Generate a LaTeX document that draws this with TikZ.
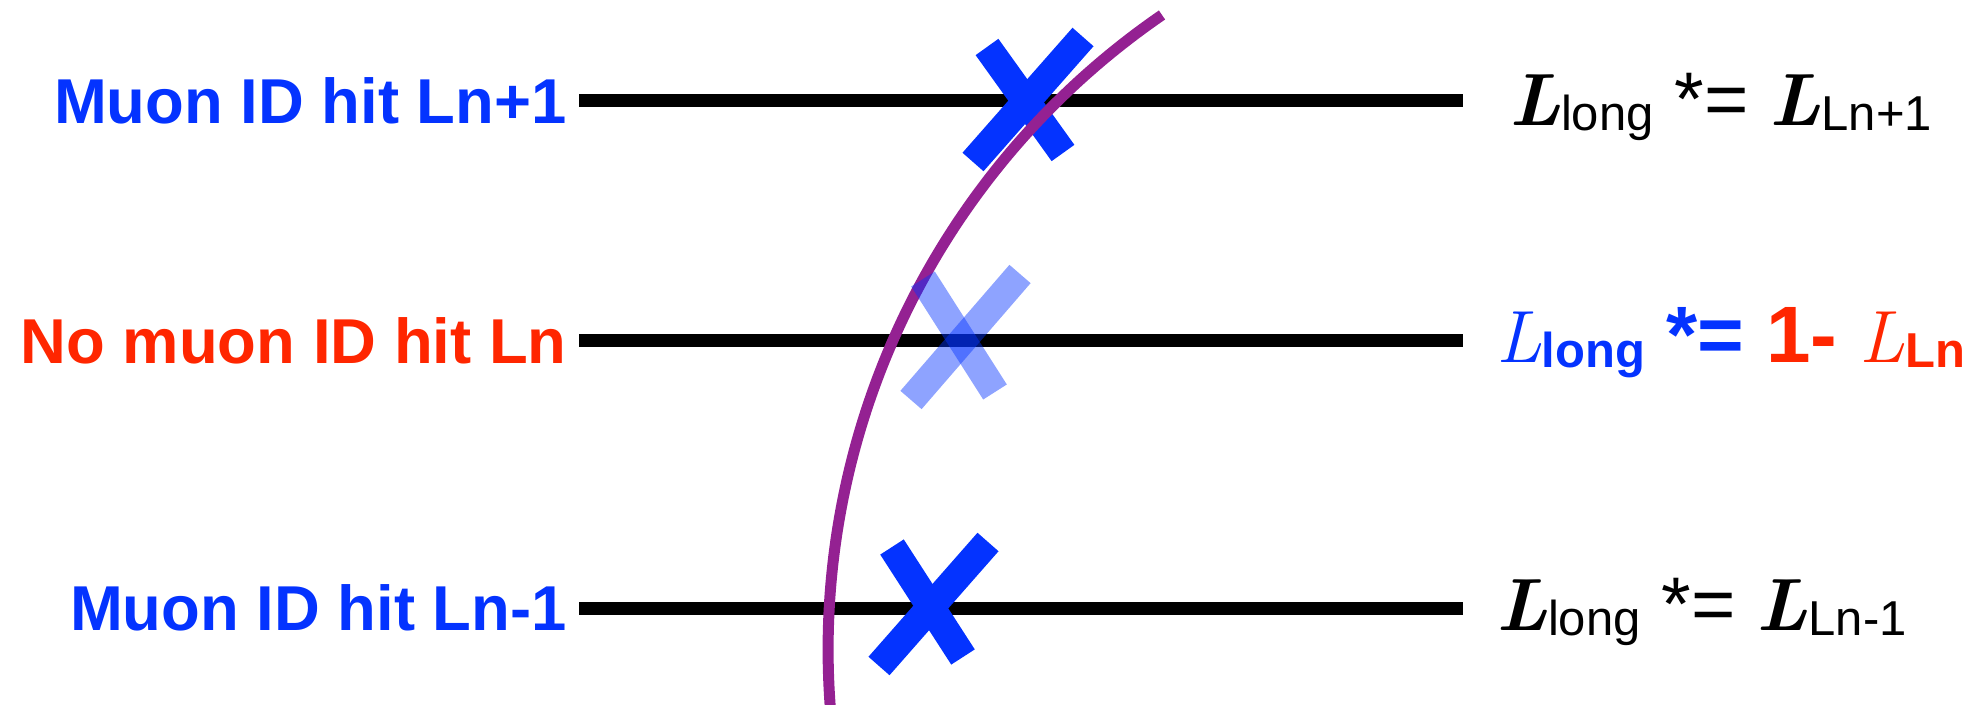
\documentclass[tikz,border=0pt]{standalone}
\usepackage{fontspec}
\setsansfont{Liberation Sans}
\usetikzlibrary{positioning}
\definecolor{hitblue}{HTML}{0433FF}
\definecolor{missred}{HTML}{FF2600}
\definecolor{trackpurple}{HTML}{942192}
\newcommand{\Lsym}[1]{{\rmfamily\bfseries\itshape\fontsize{37}{37}\selectfont L}\raisebox{-2.5pt}{\fontsize{24.5}{25}\selectfont #1}}
\newcommand{\Lthin}[1]{{\rmfamily\mdseries\itshape\fontsize{37}{37}\selectfont L}\raisebox{-2.5pt}{\fontsize{24.5}{25}\selectfont #1}}

\begin{document}
\begin{tikzpicture}[x=0.5pt, y=-0.5pt,
    layer/.style={black, line width=6.5pt},
    hitmark/.style={hitblue, line width=14pt},
    lbl/.style={font=\sffamily\bfseries\fontsize{31.7}{34}\selectfont, inner sep=0pt},
    lik/.style={font=\sffamily\fontsize{38}{40}\selectfont, inner sep=0pt, anchor=base west}]
    \useasboundingbox (0,0) rectangle (1981,705);
    \clip (0,0) rectangle (1981,705);
    % the three layers
    \coordinate (up a) at (579,101);
    \coordinate (up b) at (1463,101);
    \coordinate (mid a) at (579,341);
    \coordinate (mid b) at (1463,341);
    \coordinate (low a) at (579,608);
    \coordinate (low b) at (1463,608);
    \draw[layer] (up a) -- (up b);
    \draw[layer] (mid a) -- (mid b);
    \draw[layer] (low a) -- (low b);
    \node[lbl, hitblue, left=6pt of up a] (hitup) {Muon ID hit Ln+1};
    \node[lbl, missred, left=6pt of mid a] (nohit) {No muon ID hit Ln};
    \node[lbl, hitblue, left=6pt of low a] (hitlow) {Muon ID hit Ln-1};
    % hits
    \draw[hitmark] (987,47) -- (1063,153);
    \draw[hitmark] (1083,37) -- (973,162);
    \draw[hitmark] (892,547) -- (963,657);
    \draw[hitmark] (988,542) -- (879,666);
    % track
    \draw[trackpurple, line width=5.5pt] (1162,15) arc[start angle=235.5, end angle=174, radius=770];
    % missing hit
    \draw[hitmark, opacity=0.45] (923,279) -- (995,392);
    \draw[hitmark, opacity=0.45] (1020,274) -- (911,400);
    \node[lik] (likup) at (1509,126) {\Lsym{long} *= \Lsym{Ln+1}};
    \node[lik, hitblue] (likmid) at (1496,363) {\Lthin{\bfseries long} {\bfseries\fontsize{40}{42}\selectfont *= \textcolor{missred}{1- \Lthin{\bfseries Ln}}}};
    \node[lik] (liklow) at (1496,630) {\Lsym{long} *= \Lsym{Ln-1}};
\end{tikzpicture}
\end{document}
